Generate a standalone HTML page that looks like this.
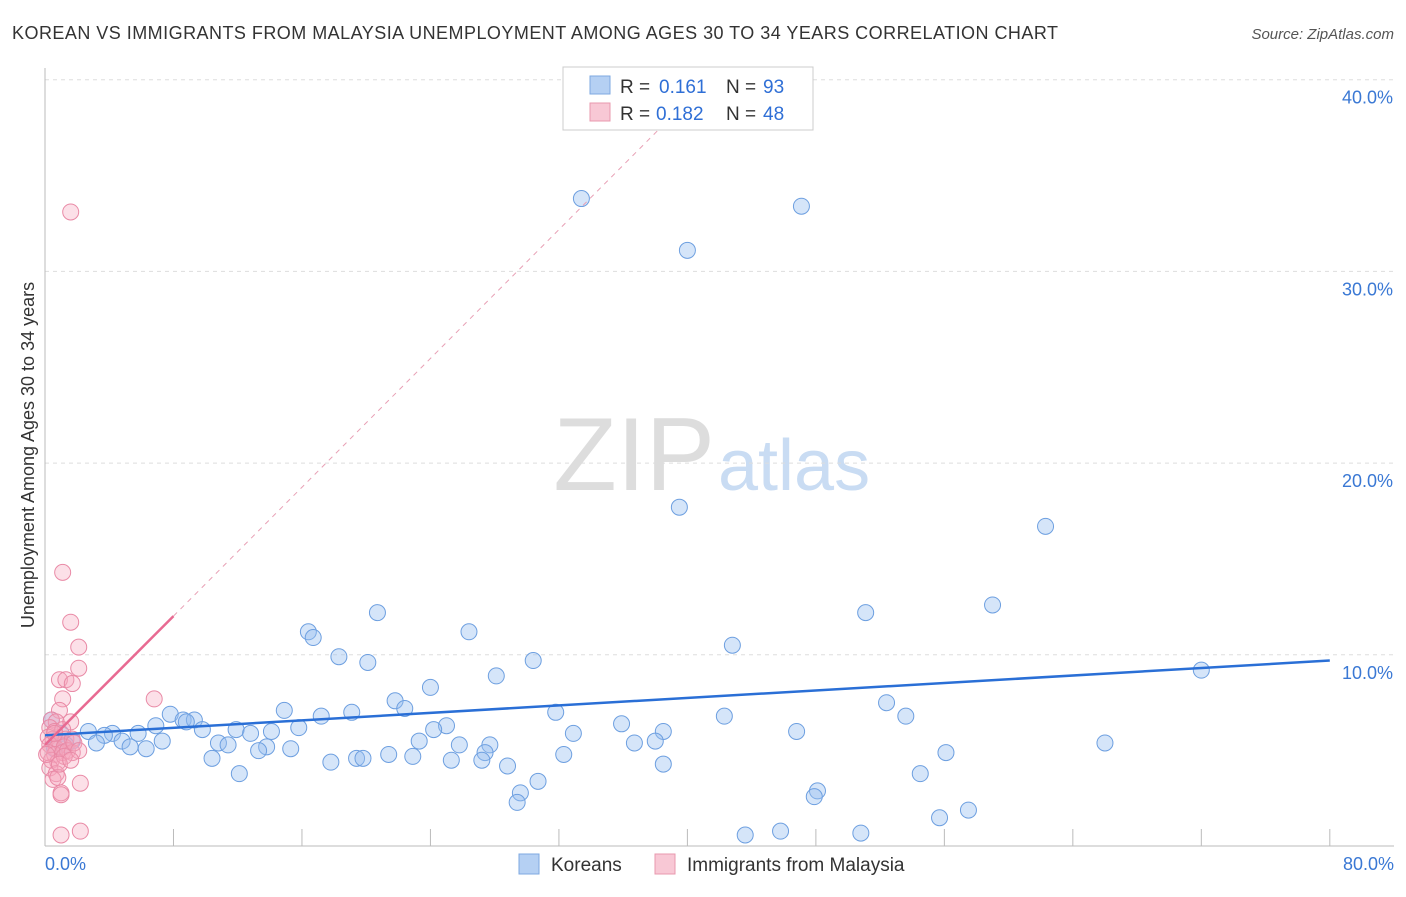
<!DOCTYPE html>
<html><head><meta charset="utf-8"><style>
body{margin:0;background:#fff;font-family:"Liberation Sans",sans-serif}
svg text{font-family:"Liberation Sans",sans-serif}
</style></head><body>
<svg id="c" width="1406" height="892" xmlns="http://www.w3.org/2000/svg">
<text x="12" y="39" font-size="18" fill="#333" textLength="1046">KOREAN VS IMMIGRANTS FROM MALAYSIA UNEMPLOYMENT AMONG AGES 30 TO 34 YEARS CORRELATION CHART</text>
<text x="1394" y="39" font-size="15" fill="#555" font-style="italic" text-anchor="end">Source: ZipAtlas.com</text>
<text x="715" y="490" font-size="104" fill="#ddd" font-family="Liberation Serif" text-anchor="end">ZIP</text>
<text x="718" y="490" font-size="72" fill="#c9dcf3">atlas</text>
<text transform="translate(34,455) rotate(-90)" font-size="18" fill="#333" text-anchor="middle">Unemployment Among Ages 30 to 34 years</text>
<g id="grid"></g><g id="pts"></g><g id="trend"></g>
<g>
<rect x="563" y="67" width="250" height="63" fill="#fff" stroke="#ccc"/>
<rect x="590" y="76" width="20" height="18" fill="#b5d0f3" stroke="#7ea8e0"/>
<text x="620" y="93" font-size="19" fill="#333">R =</text><text x="659" y="93" font-size="19" fill="#2f6fd6">0.161</text>
<text x="726" y="93" font-size="19" fill="#333">N =</text><text x="763" y="93" font-size="19" fill="#2f6fd6">93</text>
<rect x="590" y="103" width="20" height="18" fill="#f8c8d5" stroke="#e898ae"/>
<text x="620" y="120" font-size="19" fill="#333">R =</text><text x="656" y="120" font-size="19" fill="#2f6fd6">0.182</text>
<text x="726" y="120" font-size="19" fill="#333">N =</text><text x="763" y="120" font-size="19" fill="#2f6fd6">48</text>
</g>
<g>
<rect x="519" y="854" width="20" height="20" fill="#b5d0f3" stroke="#7ea8e0"/>
<text x="551" y="871" font-size="19" fill="#333">Koreans</text>
<rect x="655" y="854" width="20" height="20" fill="#f8c8d5" stroke="#e898ae"/>
<text x="687" y="871" font-size="19" fill="#333">Immigrants from Malaysia</text>
</g>
</svg>
<script>
const yTicks=[10,20,30,40];
const xLabels=["0.0%","80.0%"];
const blueX=[33.4,47.1,40.0,39.5,62.3,20.7,51.1,59.0,16.4,26.4,16.7,42.8,18.3,30.4,20.1,72.0,28.1,24.0,21.8,22.4,52.4,14.9,19.1,17.2,31.8,42.3,53.6,7.8,8.6,9.3,8.8,6.9,9.8,11.9,15.8,25.0,35.9,24.2,38.5,46.8,32.9,14.1,12.8,5.8,4.2,2.7,3.7,1.0,1.7,3.2,4.8,7.3,10.8,11.4,13.8,5.3,6.3,23.3,25.8,27.7,36.7,38.0,66.0,13.3,15.3,27.4,27.2,10.4,19.4,19.8,21.4,22.9,25.3,32.3,56.1,17.8,28.8,38.5,12.1,54.5,30.7,29.6,48.1,47.9,29.4,57.5,55.7,43.6,45.8,50.8,0.4,0.6,1.3];
const blueY=[33.8,33.4,31.1,17.7,16.7,12.2,12.2,12.6,11.2,11.2,10.9,10.5,9.9,9.7,9.6,9.2,8.9,8.3,7.6,7.2,7.5,7.1,7.0,6.8,7.0,6.8,6.8,6.9,6.6,6.6,6.5,6.3,6.1,6.1,6.2,6.3,6.4,6.1,6.0,6.0,5.9,6.0,5.9,5.9,5.9,6.0,5.8,5.9,5.5,5.4,5.5,5.5,5.4,5.3,5.2,5.2,5.1,5.5,5.3,5.3,5.4,5.5,5.4,5.0,5.1,4.9,4.5,4.6,4.6,4.6,4.8,4.7,4.5,4.8,4.9,4.4,4.2,4.3,3.8,3.8,3.4,2.8,2.9,2.6,2.3,1.9,1.5,0.6,0.8,0.7,6.6,5.1,5.3];
const pinkX=[1.6,1.1,1.6,2.1,2.1,0.9,1.3,1.7,6.8,1.1,0.9,0.4,0.7,1.6,0.3,0.6,1.1,0.2,0.5,0.9,1.3,1.7,0.3,0.7,1.2,0.2,0.6,1.1,1.4,1.7,0.4,0.8,0.3,0.7,0.5,0.8,2.2,1.0,1.0,2.2,1.0,1.8,2.1,0.1,0.6,1.2,0.9,1.6];
const pinkY=[33.1,14.3,11.7,10.4,9.3,8.7,8.7,8.5,7.7,7.7,7.1,6.6,6.5,6.5,6.2,6.0,6.1,5.7,5.6,5.5,5.6,5.6,5.3,5.1,5.2,4.9,4.8,4.9,5.0,4.9,4.5,4.4,4.1,3.8,3.5,3.6,3.3,2.8,2.7,0.8,0.6,5.4,5.0,4.8,5.9,4.7,4.3,4.5];
const blueTrend=[5.8,9.7]; // y at x=0, x=80
const pinkTrend=[5.3,0.84]; // intercept, slope
const X=v=>45+v*16.06, Y=v=>846.5-v*19.17;
const NS="http://www.w3.org/2000/svg";
function mk(t,a,p){const e=document.createElementNS(NS,t);for(const k in a)e.setAttribute(k,a[k]);p.appendChild(e);return e;}
const g=document.getElementById('grid');
yTicks.forEach(t=>{
 const l=mk('line',{x1:45,x2:1394,y1:Y(t),y2:Y(t),stroke:'#ddd','stroke-dasharray':'4,4'},g);
 
 
 const tx=mk('text',{x:1393,y:Y(t)+24,'font-size':18,fill:'#3a78d4','text-anchor':'end'},g);tx.textContent=t.toFixed(1)+'%';
 
 
});
const ax=mk('line',{x1:45,x2:1394,y1:846,y2:846,stroke:'#bbb'},g);


const ay=mk('line',{x1:45,x2:45,y1:68,y2:846,stroke:'#bbb'},g);


for(let i=1;i<=10;i++){const t=mk('line',{x1:X(i*8),x2:X(i*8),y1:829,y2:846,stroke:'#bbb'},g);
 
 }
[[0,'start',45],[80,'end',1394]].forEach((d,i)=>{const t=mk('text',{x:d[2],y:870,'font-size':18,fill:'#3a78d4','text-anchor':d[1]},g);t.textContent=xLabels[i];
 
 });
const p=document.getElementById('pts');
blueX.forEach((x,i)=>{const c=mk('circle',{cx:X(x),cy:Y(blueY[i]),r:8,fill:'rgba(150,190,240,0.4)',stroke:'#6d9fe0','stroke-width':1},p);
 
 });
pinkX.forEach((x,i)=>{const c=mk('circle',{cx:X(x),cy:Y(pinkY[i]),r:8,fill:'rgba(245,165,190,0.35)',stroke:'#e98aa6','stroke-width':1},p);
 
 });
const tr=document.getElementById('trend');
const bl=mk('line',{x1:X(0),y1:Y(blueTrend[0]),x2:X(80),y2:Y(blueTrend[1]),stroke:'#2a6fd6','stroke-width':2.5},tr);


const pe=38.5;
const pd=mk('line',{x1:X(8),y1:Y(pinkTrend[0]+8*pinkTrend[1]),x2:X(pe),y2:Y(pinkTrend[0]+pe*pinkTrend[1]),stroke:'#e8a0b5','stroke-width':1,'stroke-dasharray':'5,5'},tr);


const pl=mk('line',{x1:X(0),y1:Y(pinkTrend[0]),x2:X(8),y2:Y(pinkTrend[0]+8*pinkTrend[1]),stroke:'#e86a92','stroke-width':2.5},tr);


</script>
</body></html>
